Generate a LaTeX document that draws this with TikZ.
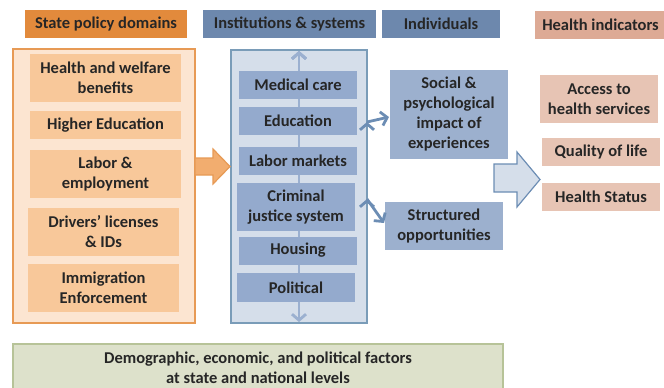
\documentclass[tikz,border=0pt]{standalone}
\usepackage{fontspec}
\setmainfont{Carlito}
\usetikzlibrary{positioning,arrows.meta}

\definecolor{txt}{HTML}{262626}
\definecolor{polhead}{HTML}{E28A3C}
\definecolor{polbg}{HTML}{FCE5D1}
\definecolor{polline}{HTML}{E79A55}
\definecolor{polfill}{HTML}{F8C89A}
\definecolor{parrow}{HTML}{F2AD6F}
\definecolor{insthead}{HTML}{6D88AD}
\definecolor{instbg}{HTML}{D5DEEA}
\definecolor{instline}{HTML}{7A9CB8}
\definecolor{instfill}{HTML}{94AACD}
\definecolor{indfill}{HTML}{9CB0CE}
\definecolor{hindhead}{HTML}{DDAA95}
\definecolor{hindfill}{HTML}{E7C4B4}
\definecolor{demfill}{HTML}{DDE1CB}
\definecolor{demline}{HTML}{B7C398}
\definecolor{linkc}{HTML}{6C8DB4}
\definecolor{vlinec}{HTML}{9BB0D0}

\begin{document}
\begin{tikzpicture}
[x=1pt,y=-1pt,
 every node/.style={inner sep=0pt,outer sep=0pt,align=center,text=txt,font=\fontsize{16.5}{20}\selectfont\bfseries},
 head/.style={rectangle,minimum height=28pt},
 pol/.style={rectangle,fill=polfill,minimum width=151pt},
 inst/.style={rectangle,fill=instfill,minimum width=118pt},
 ind/.style={rectangle,fill=indfill,minimum width=118pt},
 hind/.style={rectangle,fill=hindfill,minimum width=118pt},
 frame/.style={rectangle,line width=1.2pt},
 link/.style={-{Straight Barb[length=6pt,width=14pt]},line width=2.8pt,draw=linkc},
 vline/.style={{Straight Barb[length=6pt,width=14pt]}-{Straight Barb[length=6pt,width=14pt]},line width=2.8pt,draw=vlinec}]
\useasboundingbox (0,0) rectangle (664,388);
\clip (0,0) rectangle (664,388);

% column headers
\node[head,fill=polhead,minimum width=162pt] (hpol)    at (106,24)    {State policy domains};
\node[head,fill=insthead,minimum width=173pt] (hinst)  at (289.5,24)  {Institutions \& systems};
\node[head,fill=insthead,minimum width=118pt] (hindiv) at (441,24)    {Individuals};
\node[head,fill=hindhead,minimum width=131pt] (hhlth)  at (600.5,25)  {Health indicators};

% frames
\node[frame,draw=polline,fill=polbg,minimum width=182pt,minimum height=274pt]   (pbox) at (104,186)   {};
\node[frame,draw=instline,fill=instbg,minimum width=136pt,minimum height=273pt] (ibox) at (299,186.5) {};
\path[vline] ([yshift=-1pt]ibox.north) edge ([yshift=1pt]ibox.south);

% state policy domains
\node[pol,minimum height=48pt] (hw) at (105.5,78)                      {Health and welfare\\benefits};
\node[pol,minimum height=28pt] (he) [on grid,below=47pt of hw]          {Higher Education};
\node[pol,minimum height=48pt] (le) [on grid,below=49pt of he]          {Labor \&\\employment};
\node[pol,minimum height=48pt] (dl) [on grid,below=58pt of le,xshift=-2pt] {Drivers’ licenses\\\& IDs};
\node[pol,minimum height=48pt] (ie) [on grid,below=56pt of dl]          {Immigration\\Enforcement};

% institutions & systems
\node[inst,minimum height=28pt] (mc) at (298,85)                        {Medical care};
\node[inst,minimum height=28pt] (ed) [on grid,below=36pt of mc]         {Education};
\node[inst,minimum height=28pt] (lm) [on grid,below=40pt of ed]         {Labor markets};
\node[inst,minimum height=48pt] (cj) [on grid,below=46pt of lm,xshift=-2pt] {Criminal\\justice system};
\node[inst,minimum height=28pt] (ho) [on grid,below=43.5pt of cj,xshift=2pt] {Housing};
\node[inst,minimum height=29pt] (po) [on grid,below=37pt of ho,xshift=-2pt]  {Political};

% individuals
\node[ind,minimum height=89pt] (soc) at (449,114.5) {Social \&\\psychological\\impact of\\experiences};
\node[ind,minimum height=48pt] (opp) at (444,226)   {Structured\\opportunities};

% health indicators
\node[hind,minimum height=48pt] (acc) at (599,99)  {Access to\\health services};
\node[hind,minimum height=28pt] (qol) at (601,152) {Quality of life};
\node[hind,minimum height=28pt] (hs)  at (601,197) {Health Status};

% demographic factors
\node[frame,draw=demline,fill=demfill,minimum width=490pt,minimum height=48pt] (dem) at (258,368)
  {Demographic, economic, and political factors\\at state and national levels};

% links
\path[link] ([yshift=64.5pt]ibox.east) edge ([yshift=-2.5pt,xshift=-1pt]soc.west);
\path[link] ([yshift=-12.5pt]ibox.east) edge ([yshift=3pt,xshift=-1pt]opp.west);

% block arrows
\draw[fill=parrow,draw=polline,line width=1.2pt]
  (195,158) -- (213,158) -- (213,149) -- (230,166.5) -- (213,184) -- (213,175) -- (195,175) -- cycle;
\draw[fill=instbg,draw=linkc,line width=1.2pt]
  (494,164) -- (517,164) -- (517,152) -- (540,179.5) -- (517,207) -- (517,192) -- (494,192) -- cycle;
\end{tikzpicture}
\end{document}
